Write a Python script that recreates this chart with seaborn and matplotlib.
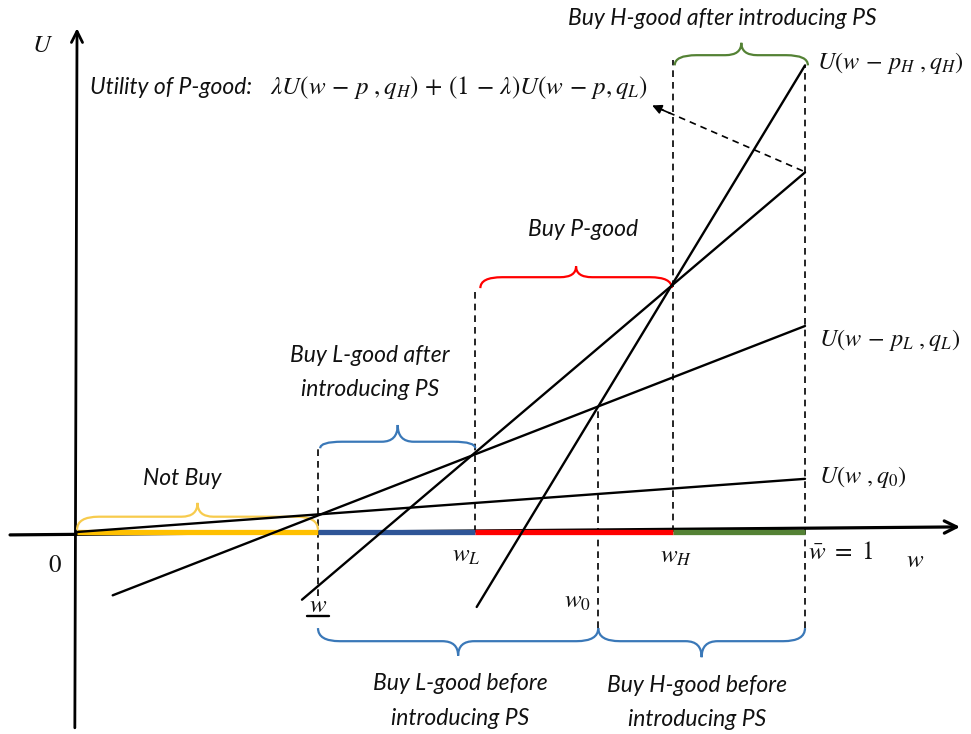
import matplotlib
matplotlib.use("Agg")
import matplotlib.pyplot as plt
import seaborn as sns
import pandas as pd
from matplotlib.path import Path
from matplotlib.patches import PathPatch

# ---------------- data (w axis: w_bar = 1 ; U on the same unit scale) ----------------
curve_names = ["U(w,q0)", "U(w-pL,qL)", "P-good", "U(w-pH,qH)"]
curve_w = [[0.0, 1.0], [0.049, 1.0], [0.309, 1.0], [0.549, 1.0]]
curve_U = [[0.0, 0.073], [-0.087, 0.283], [-0.093, 0.494], [-0.103, 0.641]]

thr_names = ["w_low", "wL", "w0", "wH", "wbar"]
thr_w = [0.331, 0.547, 0.716, 0.819, 1.0]
dash_top = [0.117, 0.335, 0.172, 0.648, 0.641]
dash_bottom = [-0.088, 0.0, -0.132, 0.0, -0.132]

seg_start = [0.0, 0.331, 0.547, 0.819]
seg_end = [0.331, 0.547, 0.819, 1.0]
seg_colors = ["#FFC000", "#2F5597", "#FF0000", "#548235"]

# braces: (w1, w2, U_end, U_flat, U_tip, color)
brace_w1 = [0.0, 0.334, 0.554, 0.821, 0.331, 0.716]
brace_w2 = [0.331, 0.547, 0.817, 1.004, 0.716, 1.0]
brace_end = [0.003, 0.115, 0.335, 0.641, -0.132, -0.132]
brace_flat = [0.021, 0.124, 0.350, 0.655, -0.150, -0.150]
brace_tip = [0.040, 0.147, 0.365, 0.672, -0.170, -0.172]
brace_colors = ["#F7CB4D", "#3A78B8", "#FF0000", "#548235", "#3A78B8", "#3A78B8"]

# ---------------- figure ----------------
sns.set_theme(style="white")
plt.rcParams["font.family"] = ["Lato", "DejaVu Sans"]
plt.rcParams["mathtext.fontset"] = "stix"

fig = plt.figure(figsize=(9.71, 7.34), dpi=100)
ax = fig.add_axes([0, 0, 1, 1])

# axes arrows
ax.annotate("", xy=(1.213, 0.007), xytext=(-0.092, -0.004),
            arrowprops=dict(arrowstyle="->", lw=2.3, color="black", mutation_scale=22,
                            shrinkA=0, shrinkB=0))
ax.annotate("", xy=(0.0, 0.692), xytext=(-0.003, -0.269),
            arrowprops=dict(arrowstyle="->", lw=2.0, color="black", mutation_scale=20,
                            shrinkA=0, shrinkB=0))

# coloured segments on the w axis
for s, e, c in zip(seg_start, seg_end, seg_colors):
    ax.plot([s, e], [0.0, 0.0], color=c, lw=3.8, solid_capstyle="butt", zorder=3)

# utility lines via seaborn
rows = []
for name, ws, us in zip(curve_names, curve_w, curve_U):
    for w, u in zip(ws, us):
        rows.append({"curve": name, "w": w, "U": u})
df = pd.DataFrame(rows)
sns.lineplot(data=df, x="w", y="U", hue="curve", palette=["black"] * 4,
             estimator=None, sort=False, legend=False, lw=1.7, ax=ax, zorder=4)
ax.set_xlim(-0.1058, 1.2280)
ax.set_ylim(-0.2775, 0.7308)
ax.axis("off")

# dashed verticals
for w, t, b in zip(thr_w, dash_top, dash_bottom):
    ax.plot([w, w], [b, t], color="black", lw=1.2, ls=(0, (4, 3)), zorder=2)


def brace(x1, x2, ye, yf, yt, color):
    xm = (x1 + x2) / 2
    r = min(0.03, (x2 - x1) / 6)
    r2 = 0.022
    verts = [(x1, ye), (x1, yf), (x1 + r, yf),
             (xm - r2, yf),
             (xm, yf), (xm, yt),
             (xm, yf), (xm + r2, yf),
             (x2 - r, yf),
             (x2, yf), (x2, ye)]
    codes = [Path.MOVETO, Path.CURVE3, Path.CURVE3,
             Path.LINETO,
             Path.CURVE3, Path.CURVE3,
             Path.CURVE3, Path.CURVE3,
             Path.LINETO,
             Path.CURVE3, Path.CURVE3]
    ax.add_patch(PathPatch(Path(verts, codes), fill=False, edgecolor=color, lw=1.6,
                           zorder=3))


for args in zip(brace_w1, brace_w2, brace_end, brace_flat, brace_tip, brace_colors):
    brace(*args)

# dashed arrow pointing to the P-good label
ax.plot([0.997, 0.797], [0.496, 0.583], color="black", lw=1.2, ls=(0, (4, 3)), zorder=2)
ax.annotate("", xy=(0.790, 0.586), xytext=(0.815, 0.575),
            arrowprops=dict(arrowstyle="-|>", lw=1.2, color="black", mutation_scale=14,
                            shrinkA=0, shrinkB=0))

# ---------------- texts ----------------
tk = dict(fontstyle="italic", fontsize=16.5, color="#111111")
mk = dict(fontsize=18, color="#111111")
rk = dict(fontsize=17.5, color="#111111")

ax.text(-0.047, 0.669, r"$U$", ha="center", va="center", **mk)
ax.text(0.018, 0.611, "Utility of P-good:", ha="left", va="center", **tk)
ax.text(0.265, 0.611, r"$\lambda U(w\,-\,p\ ,q_H)\,+\,(1\,-\,\lambda)U(w\,-\,p,q_L)$",
        ha="left", va="center", **mk)
ax.text(0.886, 0.706, "Buy H-good after introducing PS", ha="center", va="center", **tk)
ax.text(1.016, 0.644, r"$U(w\,-\,p_H\ ,q_H)$", ha="left", va="center", **rk)
ax.text(1.019, 0.264, r"$U(w\,-\,p_L\ ,q_L)$", ha="left", va="center", **rk)
ax.text(1.019, 0.076, r"$U(w\ ,q_0)$", ha="left", va="center", **rk)
ax.text(0.695, 0.416, "Buy P-good", ha="center", va="center", **tk)
ax.text(0.402, 0.219, "Buy L-good after\nintroducing PS", ha="center", va="center",
        linespacing=1.8, **tk)
ax.text(0.144, 0.074, "Not Buy", ha="center", va="center", **tk)
ax.text(-0.030, -0.045, r"$0$", ha="center", va="center", **mk)
ax.text(0.534, -0.032, r"$w_L$", ha="center", va="center", **mk)
ax.text(0.823, -0.034, r"$w_H$", ha="center", va="center", **mk)
ax.text(1.004, -0.027, r"$\bar{w}\ =\ 1$", ha="left", va="center", **mk)
ax.text(1.151, -0.038, r"$w$", ha="center", va="center", **mk)
ax.text(0.688, -0.096, r"$w_0$", ha="center", va="center", **mk)
ax.text(0.331, -0.100, r"$w$", ha="center", va="center", **mk)
ax.plot([0.316, 0.346], [-0.116, -0.116], color="black", lw=1.7)
ax.text(0.526, -0.232, "Buy L-good before\nintroducing PS", ha="center", va="center",
        linespacing=1.8, **tk)
ax.text(0.852, -0.234, "Buy H-good before\nintroducing PS", ha="center", va="center",
        linespacing=1.8, **tk)

fig.savefig("out.png", dpi=100)
